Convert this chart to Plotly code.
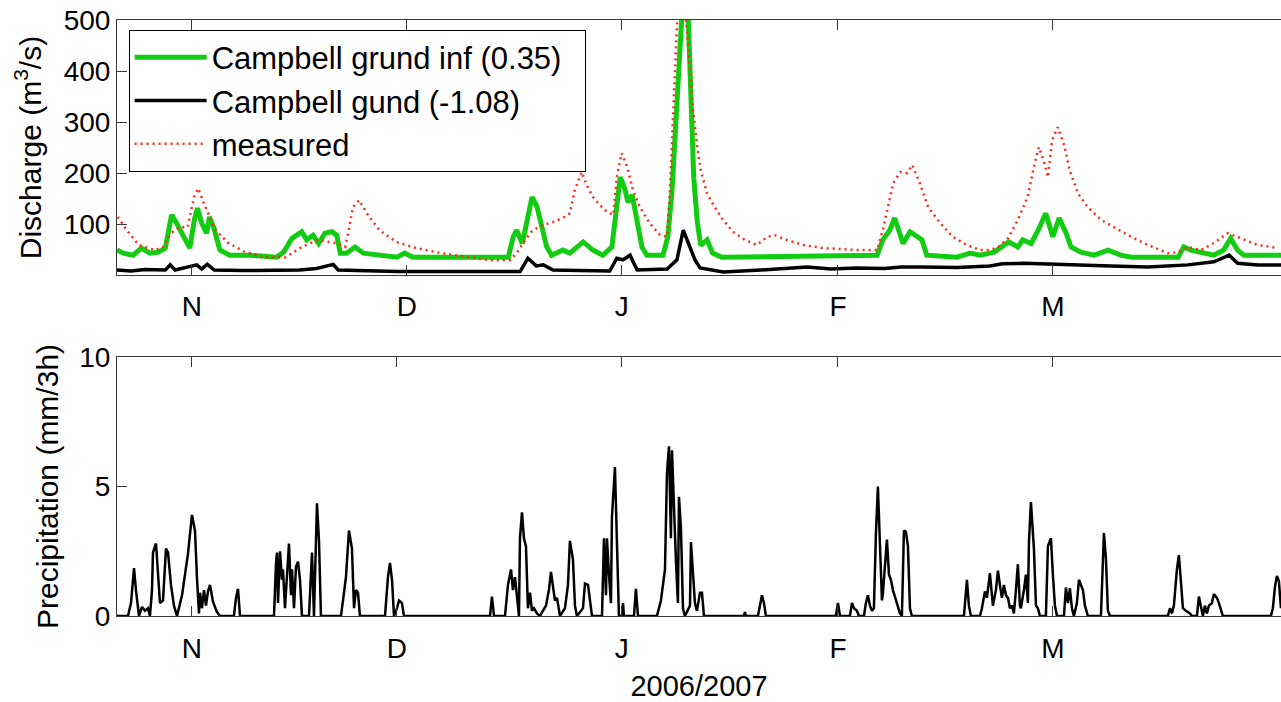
import plotly.graph_objects as go
from plotly.subplots import make_subplots

# x values are days from the start of the record (late Oct 2006)
# discharge in m3/s: (day, value)
grund_inf = [
    (0, 49), (0.9, 43), (2.3, 39), (3.5, 53), (4.7, 43), (5.9, 45), (6.9, 53), (7.8, 118),
    (8.5, 102), (9.2, 82), (10.4, 53), (11.1, 112), (11.5, 131), (12.1, 102), (12.8, 82),
    (13.2, 114), (13.8, 94), (14.7, 49), (16.1, 39), (19.0, 39), (22.8, 35), (23.8, 45),
    (25.0, 72), (26.4, 85), (27.1, 69), (28.0, 78), (28.8, 62), (29.7, 82), (30.7, 85),
    (31.4, 78), (31.9, 43), (32.8, 43), (34.0, 55), (35.2, 43), (37.1, 39), (40.0, 35),
    (41.1, 43), (42.3, 35), (47.6, 35), (55.9, 35), (56.6, 75), (57.1, 88), (57.9, 62),
    (58.6, 108), (59.3, 153), (60.0, 134), (60.7, 94), (61.4, 55), (62.1, 39), (63.7, 49),
    (64.7, 43), (66.6, 65), (68.0, 49), (69.4, 39), (70.7, 55), (71.4, 134), (71.9, 192),
    (72.6, 167), (73.0, 143), (73.6, 157), (74.3, 102), (75.0, 55), (75.7, 39), (78.0, 39),
    (78.7, 75), (79.3, 167), (79.7, 265), (80.4, 500), (81.0, 580), (81.6, 510), (82.0, 330),
    (82.4, 190), (82.9, 105), (83.4, 58), (84.3, 69), (85.1, 43), (86.4, 35), (96.1, 37),
    (98.6, 39), (105.7, 39), (108.6, 39), (109.4, 69), (110.4, 88), (111.1, 112), (111.6, 94),
    (112.3, 62), (113.3, 85), (114.3, 75), (115.0, 69), (115.7, 39), (120.0, 35), (121.9, 43),
    (123.3, 39), (124.7, 43), (125.3, 45), (127.4, 65), (128.7, 55), (129.4, 69), (130.6, 62),
    (131.6, 88), (132.7, 121), (133.1, 102), (133.7, 75), (134.6, 112), (135.6, 82),
    (136.3, 55), (137.7, 45), (139.6, 39), (141.6, 49), (143.4, 39), (144.9, 35), (151.6, 35),
    (152.4, 55), (153.4, 49), (154.9, 45), (156.7, 39), (158.1, 49), (159.1, 72), (160.1, 49),
    (161.0, 39), (166.3, 39),
]

grund = [
    (0, 10), (2.0, 8), (4.0, 11), (6.9, 10), (7.6, 20), (8.3, 10), (11.4, 20), (12.1, 12),
    (12.9, 21), (13.9, 10), (18.0, 9), (22.0, 10), (26.1, 10), (28.5, 13), (30.9, 21),
    (31.6, 10), (40.0, 7), (50.0, 7), (57.6, 7), (58.7, 33), (59.9, 18), (60.9, 20),
    (62.3, 10), (66.0, 9), (70.4, 8), (71.4, 33), (72.3, 30), (73.3, 39), (74.3, 10),
    (78.6, 12), (80.0, 30), (80.9, 88), (81.9, 55), (82.6, 29), (83.3, 14), (86.6, 6),
    (92.0, 10), (98.6, 16), (102.0, 12), (105.7, 14), (109.7, 13), (112.0, 16), (115.1, 16),
    (120.0, 15), (124.7, 18), (126.5, 22), (129.6, 23), (133.0, 22), (137.7, 20),
    (142.0, 18), (147.3, 16), (150.0, 18), (153.0, 20), (156.7, 26), (158.9, 39),
    (160.1, 23), (163.0, 20), (166.3, 20),
]

measured = [
    (0.1, 114), (1.4, 88), (3.1, 59), (5.4, 49), (6.6, 55), (7.7, 82), (8.9, 94), (10.1, 94),
    (11.0, 153), (11.6, 170), (12.4, 141), (13.3, 114), (14.1, 88), (15.9, 63), (18.3, 45),
    (21.1, 35), (24.1, 35), (26.4, 55), (28.7, 69), (31.1, 63), (32.6, 55), (33.1, 88),
    (33.7, 133), (34.6, 147), (35.7, 121), (37.5, 88), (39.9, 65), (42.7, 53), (46.3, 43),
    (50.3, 35), (53.3, 29), (56.1, 29), (57.1, 43), (58.3, 69), (59.4, 88), (60.9, 98),
    (62.3, 104), (63.7, 112), (64.7, 121), (65.4, 167), (66.4, 202), (67.1, 177), (68.0, 153),
    (69.0, 137), (70.0, 124), (70.9, 118), (71.4, 192), (72.1, 239), (72.9, 212), (73.7, 167),
    (74.7, 133), (76.1, 102), (77.6, 78), (78.6, 75), (79.0, 167), (79.3, 265), (79.7, 400),
    (80.1, 520), (80.9, 560), (81.6, 450), (82.3, 323), (82.9, 251), (83.4, 206), (84.3, 160),
    (85.4, 133), (86.6, 108), (88.0, 85), (89.7, 69), (91.4, 59), (92.9, 75), (94.0, 78),
    (95.7, 69), (98.0, 59), (100.9, 53), (105.7, 49), (108.6, 49), (109.4, 88), (110.1, 133),
    (110.9, 180), (111.9, 202), (112.9, 200), (113.6, 216), (114.7, 180), (115.9, 133),
    (117.6, 102), (119.4, 75), (121.4, 59), (123.3, 49), (124.7, 49), (125.9, 55), (127.3, 72),
    (128.7, 108), (130.1, 153), (131.0, 212), (131.7, 251), (132.4, 225), (133.0, 192),
    (133.6, 265), (134.4, 290), (135.4, 251), (136.1, 206), (137.3, 160), (138.7, 133),
    (140.6, 108), (142.4, 94), (144.9, 75), (147.3, 59), (150.1, 43), (151.6, 45), (153.0, 55),
    (154.9, 49), (156.7, 63), (158.7, 82), (160.6, 72), (163.0, 59), (165.9, 53),
]

# precipitation in mm/3h: (day, value)
precip = [
    (0, 0), (1.57, 0), (2.0, 0.5), (2.43, 1.85), (2.71, 1.0), (3.14, 0), (3.57, 0.35),
    (4.0, 0.2), (4.43, 0.3), (4.71, 0), (5.0, 1.0), (5.14, 2.45), (5.57, 2.8), (5.86, 1.7),
    (6.14, 0.5), (6.57, 0.6), (7.0, 2.6), (7.29, 2.45), (7.71, 1.2), (8.14, 0.4), (8.57, 0),
    (9.29, 0.8), (9.71, 1.7), (10.14, 2.4), (10.71, 3.9), (11.14, 3.3), (11.43, 1.45),
    (11.71, 0.1), (11.86, 0.9), (12.14, 0.3), (12.43, 1.0), (12.71, 0.4), (13.0, 0.95),
    (13.29, 1.2), (13.71, 0.55), (14.29, 0.15), (14.71, 0), (16.71, 0), (17.0, 0.7),
    (17.29, 1.05), (17.57, 0), (22.43, 0), (22.71, 2.0), (22.86, 2.45), (23.0, 0.5),
    (23.29, 2.5), (23.57, 1.4), (23.71, 1.8), (24.0, 0.3), (24.29, 1.6), (24.57, 2.8),
    (24.86, 0.8), (25.0, 1.8), (25.29, 0.3), (25.57, 1.9), (25.86, 2.1), (26.14, 1.4),
    (26.43, 0), (27.43, 0), (27.86, 2.45), (28.14, 0), (28.57, 4.35), (28.86, 2.9),
    (29.14, 0), (32.0, 0), (32.43, 0.9), (32.71, 1.5), (33.14, 3.3), (33.57, 2.6),
    (33.86, 0.3), (34.14, 1.0), (34.43, 0.9), (34.71, 0), (38.29, 0), (38.71, 1.5),
    (39.0, 2.05), (39.29, 1.4), (39.57, 0), (40.0, 0.3), (40.29, 0.6), (40.71, 0.5),
    (41.0, 0), (53.29, 0), (53.57, 0.75), (53.86, 0), (55.43, 0), (55.86, 1.2), (56.29, 1.8),
    (56.57, 1.0), (56.86, 1.5), (57.14, 0.6), (57.43, 0), (57.57, 3.0), (57.86, 4.0),
    (58.14, 3.0), (58.43, 2.7), (58.71, 0.3), (59.0, 0.9), (59.29, 0.2), (59.57, 0.3),
    (60.0, 0.1), (60.43, 0), (61.29, 0.4), (61.71, 1.0), (62.0, 1.7), (62.29, 1.1),
    (62.57, 0.6), (62.86, 0.7), (63.29, 0), (64.0, 0.3), (64.43, 1.2), (64.71, 2.9),
    (65.14, 2.2), (65.43, 0.4), (65.71, 0), (66.57, 0.3), (66.86, 1.25), (67.29, 1.2),
    (67.57, 0.7), (67.86, 0), (69.29, 0), (69.57, 3.0), (69.86, 0.8), (70.0, 3.0),
    (70.29, 1.6), (70.57, 0.5), (70.71, 3.8), (71.14, 5.75), (71.43, 2.8), (71.71, 0),
    (72.14, 0), (72.29, 0.5), (72.43, 0), (73.86, 0), (74.14, 1.05), (74.43, 0), (77.14, 0),
    (77.71, 0.6), (78.29, 1.8), (78.57, 5.5), (78.86, 6.55), (79.14, 3.0), (79.29, 6.4),
    (79.57, 4.1), (79.86, 2.1), (80.14, 0.5), (80.29, 4.6), (80.57, 3.4), (80.86, 0.3),
    (81.14, 0), (81.86, 0.4), (82.0, 2.85), (82.29, 1.6), (82.57, 0.5), (82.86, 0.2),
    (83.29, 0.9), (83.57, 0.9), (83.86, 0), (89.57, 0), (89.71, 0.15), (89.86, 0),
    (91.57, 0), (92.0, 0.6), (92.14, 0.8), (92.43, 0.5), (92.71, 0), (102.71, 0),
    (103.0, 0.5), (103.29, 0), (104.71, 0), (105.0, 0.5), (105.29, 0.3), (105.71, 0.2),
    (106.0, 0), (106.71, 0), (107.0, 0.5), (107.29, 0.8), (107.57, 0.4), (107.86, 0.2),
    (108.14, 0.3), (108.43, 3.2), (108.71, 5.0), (109.0, 2.8), (109.29, 0.6), (109.43, 0.9),
    (109.71, 1.8), (110.0, 2.95), (110.29, 1.6), (110.57, 1.4), (110.86, 1.0), (111.43, 0.5),
    (111.86, 0.1), (112.14, 0), (112.43, 3.3), (112.71, 3.25), (113.0, 2.7), (113.29, 0.3),
    (113.57, 0), (121.0, 0), (121.29, 1.1), (121.43, 1.4), (121.71, 0.4), (122.0, 0),
    (123.29, 0), (123.57, 0.3), (124.0, 0.95), (124.29, 0.7), (124.71, 1.65), (125.14, 0.4),
    (125.57, 1.0), (125.86, 1.75), (126.14, 1.2), (126.43, 0.7), (126.71, 1.2), (127.0, 0.8),
    (127.29, 0.7), (127.57, 0.3), (127.86, 0.4), (128.14, 0.1), (128.43, 1.0), (128.71, 2.0),
    (129.0, 0.4), (129.14, 0.3), (129.57, 1.0), (129.86, 1.6), (130.14, 0.5), (130.29, 2.85),
    (130.57, 4.4), (130.86, 3.0), (131.0, 2.6), (131.29, 0.4), (131.57, 0.3), (131.86, 0),
    (132.71, 0), (133.0, 2.7), (133.43, 3.0), (133.71, 1.6), (134.0, 0.4), (134.29, 0),
    (135.29, 0), (135.57, 1.1), (135.86, 0.5), (136.14, 1.07), (136.43, 0.3), (136.71, 0),
    (137.14, 0.5), (137.43, 1.4), (137.71, 1.2), (138.0, 1.0), (138.29, 0.4), (138.71, 0),
    (140.57, 0), (140.86, 2.0), (141.0, 3.2), (141.29, 2.2), (141.57, 0.2), (141.86, 0),
    (150.14, 0), (150.43, 0.3), (150.71, 0.1), (151.0, 0.4), (151.43, 1.8), (151.71, 2.35),
    (152.0, 1.2), (152.29, 0.3), (152.71, 0.2), (153.29, 0.1), (153.57, 0), (154.29, 0),
    (154.57, 0.75), (154.86, 0.3), (155.14, 0), (155.43, 0.4), (155.71, 0.1), (156.0, 0.4),
    (156.43, 0.5), (156.71, 0.85), (157.14, 0.7), (157.43, 0.5), (157.71, 0.2), (158.0, 0),
    (164.86, 0), (165.14, 0.3), (165.43, 1.1), (165.71, 1.55), (166.0, 1.35), (166.29, 0.3),
]

months = ["N", "D", "J", "F", "M"]
top_month_days = [10.7, 41.4, 72.1, 103.0, 133.7]
bottom_month_days = [10.7, 40.0, 72.1, 103.0, 133.7]
q_ticks = [100, 200, 300, 400, 500]
p_ticks = [0, 5, 10]

FONT = "Liberation Sans"
AX = "#3a3a3a"


def xy(pairs):
    return [p[0] for p in pairs], [p[1] for p in pairs]


fig = make_subplots(rows=2, cols=1)

x, y = xy(grund_inf)
fig.add_trace(go.Scatter(x=x, y=y, mode="lines", name="Campbell grund inf (0.35)\u00a0\u00a0",
                         line=dict(color="#11cc11", width=5)), row=1, col=1)
x, y = xy(grund)
fig.add_trace(go.Scatter(x=x, y=y, mode="lines", name="Campbell gund (-1.08)",
                         line=dict(color="black", width=3.5)), row=1, col=1)
x, y = xy(measured)
fig.add_trace(go.Scatter(x=x, y=y, mode="lines", name="measured",
                         line=dict(color="#ff2a1a", width=2.5, dash="2px,4px")), row=1, col=1)
x, y = xy(precip)
fig.add_trace(go.Scatter(x=x, y=y, mode="lines", showlegend=False,
                         line=dict(color="black", width=2.5)), row=2, col=1)

xcommon = dict(range=[0, 166.3], showgrid=False, zeroline=False, showline=True,
               linecolor=AX, linewidth=1, mirror="allticks", ticks="inside",
               ticklen=10, tickcolor=AX, ticktext=months, automargin=False,
               tickfont=dict(family=FONT, size=28, color="black"))
fig.update_xaxes(xcommon)
fig.update_xaxes(tickvals=top_month_days, ticklabelstandoff=6, row=1, col=1)
fig.update_xaxes(tickvals=bottom_month_days, ticklabelstandoff=7, row=2, col=1,
                 title=dict(text="2006/2007", font=dict(family=FONT, size=29, color="black"),
                            standoff=15))

ycommon = dict(showgrid=False, zeroline=False, showline=True, linecolor=AX, linewidth=1,
               ticks="inside", ticklen=10, tickcolor=AX, automargin=False,
               tickfont=dict(family=FONT, size=28, color="black"))
fig.update_yaxes(ycommon)
fig.update_yaxes(range=[0, 500], tickvals=q_ticks, domain=[0.572, 1.0], row=1, col=1,
                 title=dict(text="Discharge (m<sup>3</sup>/s)",
                            font=dict(family=FONT, size=30, color="black"), standoff=13))
fig.update_yaxes(range=[0, 10], tickvals=p_ticks, domain=[0.0, 0.4346], row=2, col=1,
                 title=dict(text="Precipitation (mm/3h)",
                            font=dict(family=FONT, size=30, color="black"), standoff=11))

fig.update_layout(
    width=1281, height=702,
    margin=dict(l=117, r=0, t=20, b=86),
    paper_bgcolor="white", plot_bgcolor="white",
    font=dict(family=FONT, size=28, color="black"),
    legend=dict(x=0.01, y=0.984, xanchor="left", yanchor="top",
                bgcolor="white", bordercolor="black", borderwidth=1,
                font=dict(family=FONT, size=31, color="black"), itemwidth=72),
)

# drop the page's default body margin so the 1281x702 figure fills the window
fig.write_html("out.html", config={"displayModeBar": False},
               post_script="document.body.style.margin='0';")
